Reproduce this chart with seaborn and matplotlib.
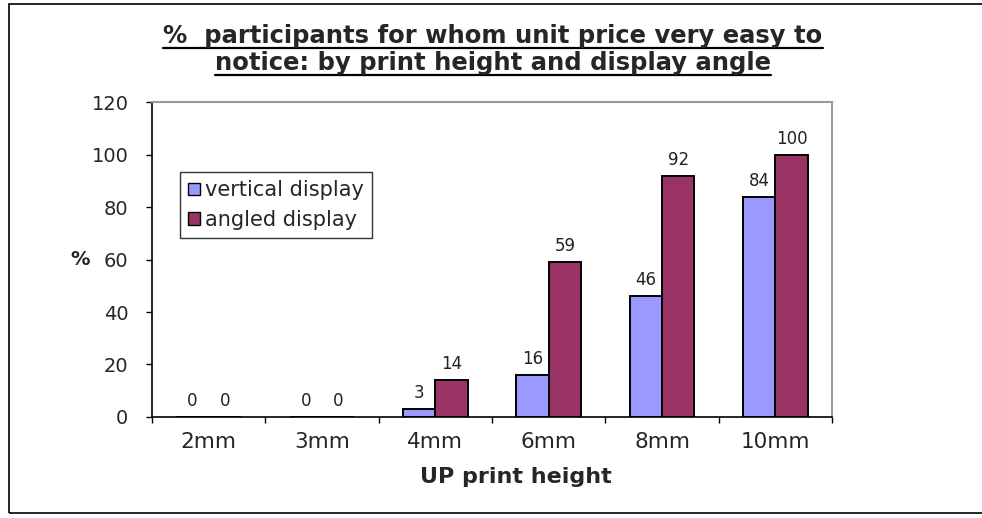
import pandas as pd
import seaborn as sns
import matplotlib.pyplot as plt
from matplotlib.lines import Line2D
from matplotlib.patches import Rectangle


# data
heights = ["2mm", "3mm", "4mm", "6mm", "8mm", "10mm"]
vertical = [0, 0, 3, 16, 46, 84]
angled = [0, 0, 14, 59, 92, 100]
series = ["vertical display", "angled display"]
colors = ["#9999FF", "#993366"]

df = pd.DataFrame({
    "height": heights * 2,
    "pct": vertical + angled,
    "display": [series[0]] * len(heights) + [series[1]] * len(heights),
})

sns.set_style("white")
# the original text is drawn wide, DejaVu Sans is the closest match
plt.rcParams["font.family"] = ["DejaVu Sans"]

W, H = 982, 518
fig = plt.figure(figsize=(W / 100, H / 100), dpi=100)
ax = fig.add_axes([0.1548, 0.195, 0.6925, 0.608])

sns.barplot(data=df, x="height", y="pct", hue="display", order=heights,
            hue_order=series, palette=colors, width=0.572, gap=0,
            edgecolor="black", linewidth=1.4, saturation=1, ax=ax)

for c in ax.containers:
    ax.bar_label(c, fmt="%d", padding=5, fontsize=12, color="#222222")

ax.set_ylim(0, 120)
ax.set_xlim(-0.5, len(heights) - 0.5)
ax.set_yticks(range(0, 121, 20))
ax.set_xticks(range(len(heights)))
ax.set_xticks([i - 0.5 for i in range(len(heights) + 1)], minor=True)
ax.tick_params(axis="x", which="major", length=0, pad=11, labelsize=15.5)
ax.tick_params(axis="x", which="minor", length=4, width=1, color="black",
               direction="out", bottom=True)
ax.tick_params(axis="y", length=4, width=1, color="black", direction="out",
               left=True, pad=13, labelsize=14)

ax.set_xlabel("UP print height", fontsize=16, fontweight="bold", va="baseline")
ax.xaxis.set_label_coords(0.535, (417 - 483) / 315)
ax.set_ylabel("%", fontsize=14, fontweight="bold", rotation=0, va="center",
              ha="center")
ax.yaxis.set_label_coords(-0.105, 0.5)

for s in ["left", "bottom"]:
    ax.spines[s].set_color("black")
    ax.spines[s].set_linewidth(1.2)
for s in ["top", "right"]:
    ax.spines[s].set_color("#999999")
    ax.spines[s].set_linewidth(1.5)

leg = ax.legend(loc="upper left", bbox_to_anchor=(0.041, 0.778), fontsize=15,
                frameon=True, fancybox=False, edgecolor="black",
                handlelength=0.55, handleheight=0.55, handletextpad=0.25,
                labelspacing=0.45, borderpad=0.4, borderaxespad=0)
leg.get_frame().set_linewidth(1.0)
for h in leg.legend_handles:
    h.set_edgecolor("black")
    h.set_linewidth(1.0)

# two-line underlined title (baselines at 43 and 70 px from the top)
title_lines = ["%  participants for whom unit price very easy to",
               "notice: by print height and display angle"]
baselines = [43, 70]
renderer = fig.canvas.get_renderer()
for line, base in zip(title_lines, baselines):
    t = fig.text(0.502, 1 - base / H, line, ha="center", va="baseline",
                 fontsize=17.5, fontweight="bold")
    bb = t.get_window_extent(renderer).transformed(fig.transFigure.inverted())
    uy = 1 - (base + 4.5) / H
    fig.add_artist(Line2D([bb.x0, bb.x1], [uy, uy], color="black",
                          linewidth=1.6, transform=fig.transFigure))

# outer chart border, open on the right like the original crop
fig.add_artist(Rectangle((9 / W, 5 / H), 1.05, 1 - 9 / H, fill=False,
                         edgecolor="black", linewidth=1.2,
                         transform=fig.transFigure))

fig.savefig("out.png", dpi=100)
